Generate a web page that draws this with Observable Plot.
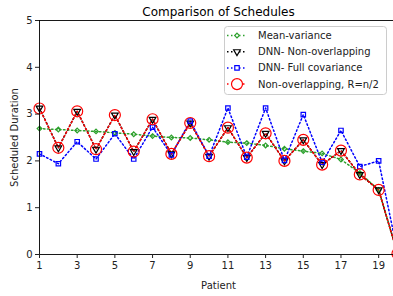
<!DOCTYPE html>
<html>
<head>
<meta charset="utf-8">
<script src="https://cdn.jsdelivr.net/npm/d3@7"></script>
<script src="https://cdn.jsdelivr.net/npm/@observablehq/plot@0.6"></script>
<style>
  html, body { margin: 0; padding: 0; background: #fff; overflow: hidden; }
  #wrap { position: relative; width: 393px; height: 296px; overflow: hidden; }
  #chart { width: 400px; }
  #chart svg { max-width: none !important; display: block; }
  #legend { position: absolute; left: 224px; top: 26px; }
</style>
</head>
<body>
<div id="wrap"><div id="chart"></div><div id="legend"></div></div>
<script>
const patients = [1,2,3,4,5,6,7,8,9,10,11,12,13,14,15,16,17,18,19,20];
const seriesNames = ["Mean-variance", "DNN- Non-overlapping", "DNN- Full covariance", "Non-overlapping, R=n/2"];
const meanVariance = [2.69,2.67,2.65,2.63,2.60,2.57,2.53,2.50,2.49,2.45,2.40,2.38,2.33,2.26,2.21,2.16,2.03,1.74,1.38,0.02];
const dnnNonOverlap = [3.13,2.28,3.06,2.25,2.98,2.20,2.89,2.15,2.81,2.10,2.71,2.07,2.59,2.00,2.45,1.92,2.22,1.71,1.38,0.02];
const dnnFullCov = [2.15,1.94,2.41,2.04,2.58,2.04,2.72,2.13,2.85,2.10,3.13,2.08,3.13,2.01,2.99,1.97,2.65,1.88,2.00,0.05];
const nonOverlapHalf = [3.12,2.28,3.06,2.25,2.98,2.20,2.89,2.15,2.81,2.10,2.71,2.07,2.59,2.00,2.45,1.92,2.22,1.71,1.38,0.02];
const xTicks = [1,3,5,7,9,11,13,15,17,19];
const yTicks = [0,1,2,3,4,5];
const title = "Comparison of Schedules";

const values = [meanVariance, dnnNonOverlap, dnnFullCov, nonOverlapHalf];
const styles = [
  {color: "#2ca02c", symbol: "diamond2", r: 2.1, rotate: 0},
  {color: "#000000", symbol: "triangle", r: 2.5, rotate: 180},
  {color: "#0000ff", symbol: "square", r: 2.5, rotate: 0},
  {color: "#ff0000", symbol: "circle", r: 5.5, rotate: 0}
];
const dash = "1.5,2.5";

const tables = seriesNames.map((name, k) => patients.map((p, i) => ({patient: p, value: values[k][i], series: name})));

const marks = [];
tables.forEach((rows, k) => {
  const s = styles[k];
  marks.push(Plot.line(rows, {x: "patient", y: "value", stroke: s.color, strokeWidth: 1.5, strokeDasharray: dash}));
});
tables.forEach((rows, k) => {
  const s = styles[k];
  marks.push(Plot.dot(rows, {x: "patient", y: "value", stroke: s.color, fill: "none", symbol: s.symbol, r: s.r, rotate: s.rotate, strokeWidth: 1.2}));
});

const chart = Plot.plot({
  width: 400, height: 296,
  marginTop: 20, marginBottom: 42, marginLeft: 39, marginRight: 3,
  style: {fontFamily: "DejaVu Sans", fontSize: "10px", color: "#222", background: "white", maxWidth: "none"},
  x: {domain: [1, 20]},
  y: {domain: [0, 5]},
  marks: [
    ...marks,
    Plot.frame({stroke: "#000", strokeWidth: 0.9}),
    Plot.axisX({ticks: xTicks, tickSize: 4, tickPadding: 3, label: "Patient", labelAnchor: "center", labelArrow: "none", labelOffset: 34, fontSize: 10}),
    Plot.axisY({ticks: yTicks, tickSize: 4, tickPadding: 3, tickFormat: d3.format("d"), label: "Scheduled Duration", labelAnchor: "center", labelArrow: "none", labelOffset: 29, fontSize: 10}),
    Plot.text([title], {frameAnchor: "top", dy: -13, fontSize: 12, fill: "#000"})
  ]
});
document.getElementById("chart").appendChild(chart);

// legend
const lw = 163, lh = 69, rowH = 16.2;
const leg = d3.select("#legend").append("svg").attr("width", lw).attr("height", lh);
leg.append("rect").attr("x", 0.5).attr("y", 0.5).attr("width", lw - 1).attr("height", lh - 1)
  .attr("rx", 3).attr("fill", "white").attr("fill-opacity", 0.8).attr("stroke", "#ccc");
const symMap = {diamond2: d3.symbolDiamond2, triangle: d3.symbolTriangle, square: d3.symbolSquare, circle: d3.symbolCircle};
seriesNames.forEach((name, k) => {
  const s = styles[k];
  const y = 9.5 + k * rowH;
  const g = leg.append("g");
  g.append("line").attr("x1", 3).attr("x2", 23).attr("y1", y).attr("y2", y)
    .attr("stroke", s.color).attr("stroke-width", 1.5).attr("stroke-dasharray", dash);
  g.append("path").attr("d", d3.symbol(symMap[s.symbol], Math.PI * s.r * s.r)())
    .attr("transform", `translate(13,${y}) rotate(${s.rotate})`)
    .attr("fill", "white").attr("stroke", s.color).attr("stroke-width", 1.2);
  g.append("text").attr("x", 34).attr("y", y).attr("dy", "0.35em")
    .attr("font-family", "DejaVu Sans").attr("font-size", 10).attr("fill", "#222").text(name);
});
</script>
</body>
</html>
